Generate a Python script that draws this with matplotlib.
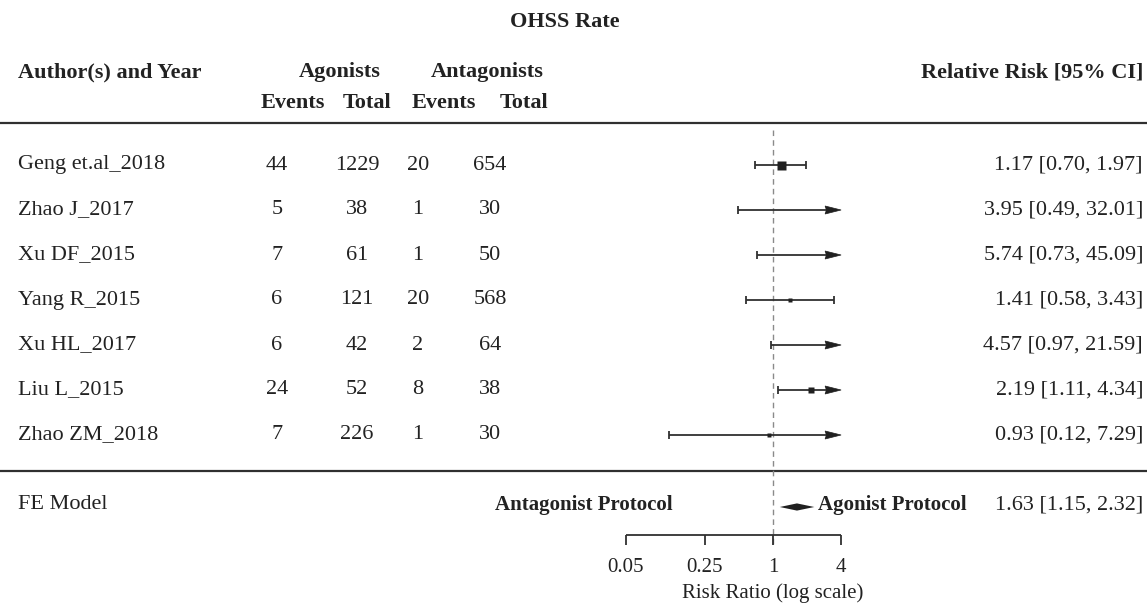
import numpy as np
import matplotlib
matplotlib.use("Agg")
import matplotlib.pyplot as plt
from matplotlib import transforms

plt.rcParams['font.family'] = ['Liberation Serif', 'DejaVu Serif']

# study data
studies = ["Geng et.al_2018", "Zhao J_2017", "Xu DF_2015", "Yang R_2015",
           "Xu HL_2017", "Liu L_2015", "Zhao ZM_2018"]
ag_events = [44, 5, 7, 6, 6, 24, 7]
ag_total = [1229, 38, 61, 121, 42, 52, 226]
an_events = [20, 1, 1, 20, 2, 8, 1]
an_total = [654, 30, 50, 568, 64, 38, 30]
rr = [1.17, 3.95, 5.74, 1.41, 4.57, 2.19, 0.93]
ci_low = [0.70, 0.49, 0.73, 0.58, 0.97, 1.11, 0.12]
ci_high = [1.97, 32.01, 45.09, 3.43, 21.59, 4.34, 7.29]
fe_est, fe_low, fe_high = 1.63, 1.15, 2.32
ticks = [0.05, 0.25, 1, 4]
tick_labels = ["0.05", "0.25", "1", "4"]

W, H = 1147, 604
fig = plt.figure(figsize=(W / 100, H / 100), dpi=100)
ax = fig.add_axes([0, 0, 1, 1])
ax.axis('off')

# layout: x in log(RR), y in row units
X0, SCALE = 772.9, 49.2
ROW0, STEP = 165, 45
ax.set_xlim((0 - X0) / SCALE, (W - X0) / SCALE)
ax.set_ylim((H - ROW0) / STEP, (0 - ROW0) / STEP)


def yr(py):
    return (py - ROW0) / STEP


trans = transforms.blended_transform_factory(fig.transFigure, ax.transData)
FS = 16


def txt(px, py, s, ha='center', bold=False, size=FS):
    ax.text(px / W, yr(py), s, transform=trans, ha=ha, va='center',
            fontsize=size, fontweight='bold' if bold else 'normal', color='#222222')


dark = '#303030'
lo_lim, hi_lim = np.log(ticks[0]), np.log(ticks[-1])

# headers
txt(565, 22, "OHSS Rate", bold=True)
txt(18, 72, "Author(s) and Year", ha='left', bold=True)
txt(340, 72, "Agonists", bold=True)
txt(487, 72, "Antagonists", bold=True)
for px, s in [(293, "Events"), (367, "Total"), (444, "Events"), (524, "Total")]:
    txt(px, 103, s, bold=True)
txt(1143, 72, "Relative Risk [95% CI]", ha='right', bold=True)
ax.axhline(yr(123), color=dark, lw=1.6)
ax.axhline(yr(471), color=dark, lw=1.6)

# reference line
ax.vlines(0, yr(130), yr(546), colors='#8a8a8a', lw=1, linestyles=(0, (4, 3)))

# weights for square sizes
var = [1 / a - 1 / n1 + 1 / c - 1 / n2
       for a, n1, c, n2 in zip(ag_events, ag_total, an_events, an_total)]
w = 1 / np.array(var)
psize = 0.5 + (w - w.min()) / (w.max() - w.min())

cap = 3.8 / STEP
head = 16 / SCALE
hw = 4.0 / STEP
for i, name in enumerate(studies):
    y = i
    py = ROW0 + STEP * i
    txt(18, py, name, ha='left')
    for px, v in zip([277, 357, 418, 490], [ag_events[i], ag_total[i], an_events[i], an_total[i]]):
        txt(px, py, str(v))
    txt(1143, py, f"{rr[i]:.2f} [{ci_low[i]:.2f}, {ci_high[i]:.2f}]", ha='right')

    lo = max(np.log(ci_low[i]), lo_lim)
    hi = min(np.log(ci_high[i]), hi_lim)
    arrow = ci_high[i] > ticks[-1]
    if arrow:
        ax.hlines(y, lo, hi - head * 0.9, colors=dark, lw=1.3)
        ax.fill([hi, hi - head, hi - head * 0.92, hi - head],
                [y, y - hw, y, y + hw], color='#202020', lw=0.5, zorder=3)
    else:
        ax.hlines(y, lo, hi, colors=dark, lw=1.3)
        ax.vlines(hi, y - cap, y + cap, colors=dark, lw=1.3)
    if ci_low[i] >= ticks[0]:
        ax.vlines(lo, y - cap, y + cap, colors=dark, lw=1.3)
    x_est = np.log(rr[i])
    if lo_lim <= x_est <= hi_lim and not (arrow and x_est > hi_lim - head):
        ax.plot(x_est, y, marker='s', color='#202020',
                markersize=psize[i] * 6 * 0.72, mec='none')

# summary row
ys = yr(507)
txt(18, 505, "FE Model", ha='left')
txt(1143, 505, f"{fe_est:.2f} [{fe_low:.2f}, {fe_high:.2f}]", ha='right')
txt(673, 505, "Antagonist Protocol", ha='right', bold=True, size=15)
txt(818, 505, "Agonist Protocol", ha='left', bold=True, size=15)
h = 3.6 / STEP
ax.fill([np.log(fe_low), np.log(fe_est), np.log(fe_high), np.log(fe_est)],
        [ys, ys - h, ys, ys + h], color='#202020', lw=0)

# x axis
ya = yr(535)
tl = 10 / STEP
ax.hlines(ya, lo_lim, hi_lim, colors=dark, lw=1.3)
for t, lab in zip(ticks, tick_labels):
    ax.vlines(np.log(t), ya, ya + tl, colors=dark, lw=1.3)
    ax.text(np.log(t), yr(567), lab, ha='center', va='center', fontsize=15, color='#222222')
ax.text(np.log(1), yr(593), "Risk Ratio (log scale)", ha='center', va='center',
        fontsize=15, color='#222222')

fig.savefig("out.png", dpi=100)
